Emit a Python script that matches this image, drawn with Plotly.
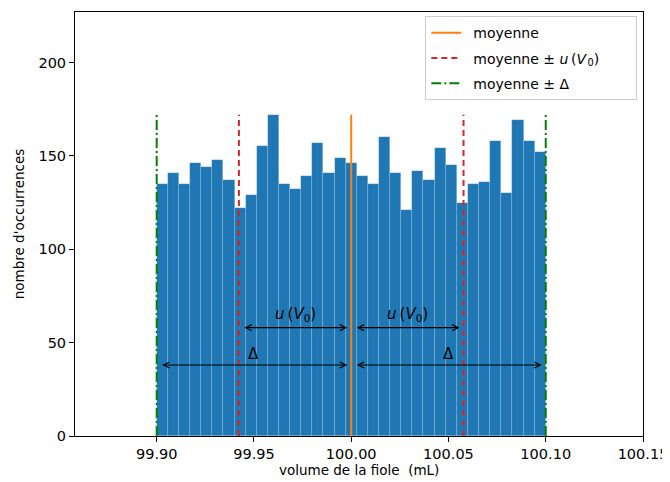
import numpy as np
import plotly.graph_objects as go

# ---- data ----
counts = [135, 141, 135, 146, 144, 148, 137, 122, 129, 155, 172, 135, 132, 139, 157, 141, 149, 146,
          139, 135, 160, 141, 121, 142, 137, 154, 145, 125, 135, 136, 158, 130, 169, 158, 152]
x_min = 99.90
x_max = 100.10
moyenne = 100.00
delta = 0.10
u_V0 = delta / np.sqrt(3)
x_ticks = [99.90, 99.95, 100.00, 100.05, 100.10, 100.15]
y_ticks = [0, 50, 100, 150, 200]
y_arrow_u = 58
y_arrow_delta = 38
y_label_u = 65
y_label_delta = 44

n_bins = len(counts)
edges = np.linspace(x_min, x_max, n_bins + 1)
centers = (edges[:-1] + edges[1:]) / 2
width = edges[1] - edges[0]
top = max(counts)

FONT = "DejaVu Sans"
SP = "\u00a0"
fig = go.Figure()

fig.add_trace(go.Bar(
    x=centers, y=counts, width=width,
    marker=dict(color="#1f77b4", line=dict(color="rgba(255,255,255,0.25)", width=0.6)),
    showlegend=False, hoverinfo="skip",
))

fig.add_trace(go.Scatter(
    x=[moyenne, moyenne], y=[0, top], mode="lines",
    line=dict(color="#ff7f0e", width=2), name="\u2002moyenne", legendgroup="a",
))
fig.add_trace(go.Scatter(
    x=[moyenne - u_V0, moyenne - u_V0, None, moyenne + u_V0, moyenne + u_V0],
    y=[0, top, None, 0, top], mode="lines",
    line=dict(color="#d62728", width=2, dash="6px,4px"),
    name="\u2002moyenne" + SP + "±" + SP + "<i>u</i>\u2009(<i>V</i>\u200a<sub>0</sub>)" + SP * 7,
    legendgroup="b",
))
fig.add_trace(go.Scatter(
    x=[moyenne - delta, moyenne - delta, None, moyenne + delta, moyenne + delta],
    y=[0, top, None, 0, top], mode="lines",
    line=dict(color="#008000", width=2, dash="10px,3px,2px,3px"),
    name="\u2002moyenne" + SP + "±" + SP + "Δ", legendgroup="c",
))

arrows = [
    (moyenne - u_V0, moyenne, y_arrow_u),
    (moyenne, moyenne + u_V0, y_arrow_u),
    (moyenne - delta, moyenne, y_arrow_delta),
    (moyenne, moyenne + delta, y_arrow_delta),
]
for a, b, yy in arrows:
    fig.add_annotation(
        x=b, y=yy, ax=a, ay=yy, xref="x", yref="y", axref="x", ayref="y",
        text="", showarrow=True, arrowside="end+start", arrowhead=5, startarrowhead=5,
        arrowsize=1, startarrowsize=1, arrowwidth=1.2, arrowcolor="black",
        standoff=4, startstandoff=4,
    )

u_text = "<i>u</i>\u2009(<i>V</i><sub>0</sub>)"
for xx in [moyenne - u_V0 / 2, moyenne + u_V0 / 2]:
    fig.add_annotation(x=xx, y=y_label_u, text=u_text, showarrow=False,
                       font=dict(family=FONT, size=15, color="black"), yanchor="middle")
for xx in [moyenne - delta / 2, moyenne + delta / 2]:
    fig.add_annotation(x=xx, y=y_label_delta, text="Δ", showarrow=False,
                       font=dict(family=FONT, size=15, color="black"), yanchor="middle")

# x-axis title as a paper annotation for exact placement
fig.add_annotation(x=0.5, y=0, xref="paper", yref="paper", xanchor="center", yanchor="top",
                   yshift=-24, showarrow=False, text="volume de la fiole\u00a0 (mL)",
                   font=dict(family=FONT, size=13.5, color="black"))

# page body has an ~8px margin: shrink the figure so the plot lands where the reference has it
fig.update_layout(
    width=662, height=474,
    margin=dict(l=67, r=27, t=4, b=46),
    plot_bgcolor="white", paper_bgcolor="white",
    font=dict(family=FONT, size=14, color="black"),
    bargap=0,
    legend=dict(
        x=0.99, y=0.99, xanchor="right", yanchor="top",
        bgcolor="white", bordercolor="#cccccc", borderwidth=1,
        font=dict(family=FONT, size=14), tracegroupgap=4,
    ),
    xaxis=dict(
        range=[99.858, 100.15], tickvals=x_ticks, ticktext=[f"{v:.2f}" for v in x_ticks],
        showline=True, linecolor="black", linewidth=1, mirror=True,
        ticks="outside", ticklen=5, tickcolor="black", showgrid=False, zeroline=False,
        tickfont=dict(size=14.5), automargin=False,
    ),
    yaxis=dict(
        range=[0, 227], tickvals=y_ticks,
        showline=True, linecolor="black", linewidth=1, mirror=True,
        ticks="outside", ticklen=5, tickcolor="black", showgrid=False, zeroline=False,
        tickfont=dict(size=14.5), automargin=False,
        title=dict(text="nombre d'occurrences", font=dict(size=13.5), standoff=10),
    ),
)

fig.write_html("out.html")
